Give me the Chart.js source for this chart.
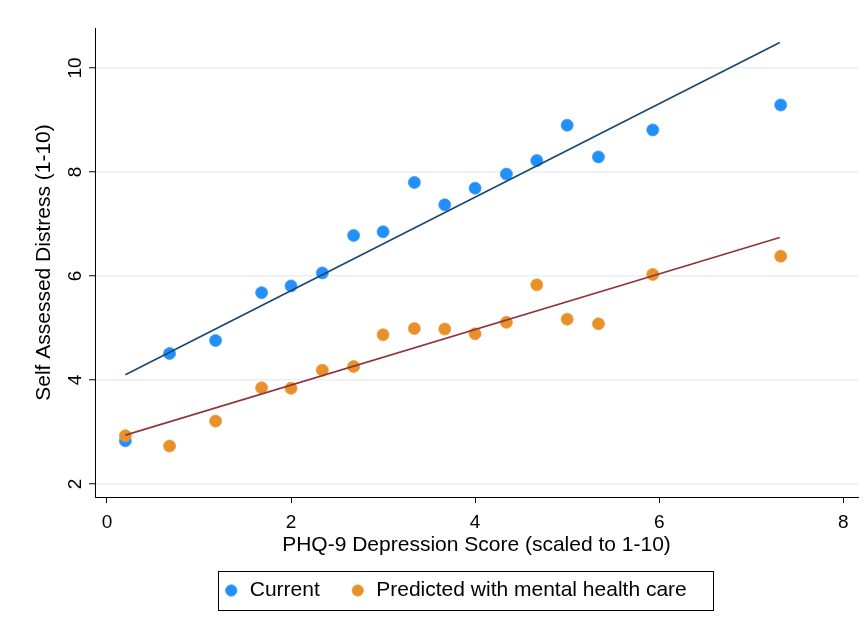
<!DOCTYPE html>
<html>
<head>
<meta charset="utf-8">
<script src="https://cdn.jsdelivr.net/npm/chart.js@4.4.1/dist/chart.umd.min.js"></script>
<style>
html, body { margin: 0; padding: 0; background: #fff; }
#wrap { width: 868px; height: 637px; }
</style>
</head>
<body>
<div id="wrap"><canvas id="myChart"></canvas></div>
<script>
const ctx = document.getElementById("myChart");

const FONT = "'Liberation Sans', Arial, Helvetica, sans-serif";

// PHQ-9 bins (x) and distress scores (y)
const scoreX = [0.2, 0.68, 1.18, 1.68, 2.0, 2.34, 2.68, 3.0, 3.34, 3.67, 4.0, 4.34, 4.67, 5.0, 5.34, 5.93, 7.32];
const currentY = [2.83, 4.51, 4.76, 5.68, 5.81, 6.06, 6.78, 6.85, 7.8, 7.37, 7.69, 7.96, 8.22, 8.9, 8.29, 8.81, 9.29];
const predictedY = [2.93, 2.73, 3.21, 3.85, 3.84, 4.19, 4.26, 4.87, 4.99, 4.98, 4.89, 5.11, 5.83, 5.17, 5.08, 6.03, 6.38];

// fitted lines, end points
const fitX = [0.2, 7.31];
const currentFitY = [4.1, 10.49];
const predictedFitY = [2.94, 6.74];

const xTicks = [0, 2, 4, 6, 8];
const yTicks = [2, 4, 6, 8, 10];

function toPoints(xs, ys) {
    return xs.map((x, i) => ({ x: x, y: ys[i] }));
}

// y tick labels are drawn turned, like the original
const yTickLabels = {
    id: "yTickLabels",
    afterDraw(chart) {
        const scale = chart.scales.y;
        const c = chart.ctx;
        c.save();
        c.fillStyle = "#000";
        c.font = "19px " + FONT;
        c.textAlign = "center";
        c.textBaseline = "middle";
        scale.ticks.forEach((t) => {
            const py = scale.getPixelForValue(t.value);
            c.save();
            c.translate(76, py);
            c.rotate(-Math.PI / 2);
            c.fillText(t.label !== undefined ? t.label : String(t.value), 0, 0);
            c.restore();
        });
        c.restore();
    },
};

// move the legend and draw a box round it
const legendBox = {
    id: "legendBox",
    afterLayout(chart) {
        const lg = chart.legend;
        lg.left += 26;
        lg.right += 26;
        lg.top = 550;
        lg.bottom = lg.top + lg.height;
    },
    afterDraw(chart) {
        const lg = chart.legend;
        const hb = lg.legendHitBoxes;
        if (!hb || !hb.length) return;
        const first = hb[0];
        const last = hb[hb.length - 1];
        const cy = lg.top + 30 + 10.5;
        const c = chart.ctx;
        c.save();
        c.strokeStyle = "#000";
        c.lineWidth = 1;
        const x1 = Math.round(first.left - 5) + 0.5;
        const x2 = Math.round(last.left + last.width + 26) + 0.5;
        c.strokeRect(x1, Math.round(cy - 20) + 0.5, x2 - x1, 39);
        c.restore();
    },
};

const chart = new Chart(ctx, {
    type: "scatter",
    data: {
        datasets: [
            {
                label: "Current",
                data: toPoints(scoreX, currentY),
                backgroundColor: "#2290fb",
                borderColor: "#3a9af5",
                borderWidth: 0.8,
                pointRadius: 6,
                pointStyle: "circle",
                order: 3,
            },
            {
                label: "Predicted with mental health care",
                data: toPoints(scoreX, predictedY),
                backgroundColor: "#e8902a",
                borderColor: "#eb9c3c",
                borderWidth: 0.8,
                pointRadius: 6,
                pointStyle: "circle",
                order: 2,
            },
            {
                type: "line",
                label: "fit current",
                data: toPoints(fitX, currentFitY),
                borderColor: "#1a476f",
                borderWidth: 1.6,
                pointRadius: 0,
                fill: false,
                order: 1,
            },
            {
                type: "line",
                label: "fit predicted",
                data: toPoints(fitX, predictedFitY),
                borderColor: "#90353b",
                borderWidth: 1.6,
                pointRadius: 0,
                fill: false,
                order: 0,
            },
        ],
    },
    options: {
        responsive: true,
        maintainAspectRatio: false,
        animation: false,
        layout: {
            padding: { top: 28, right: 10, bottom: 10, left: 0 },
        },
        scales: {
            x: {
                type: "linear",
                min: -0.13,
                max: 8.16,
                afterBuildTicks: (s) => {
                    s.ticks = xTicks.map((v) => ({ value: v }));
                },
                afterFit: (s) => {
                    s.height = 70;
                },
                grid: {
                    display: true,
                    drawOnChartArea: false,
                    drawTicks: true,
                    tickLength: 6,
                    tickColor: "#000",
                    tickWidth: 1,
                },
                border: { color: "#000", width: 1 },
                ticks: {
                    color: "#000",
                    font: { size: 19, family: FONT },
                    padding: 8,
                    maxRotation: 0,
                },
                title: {
                    display: true,
                    text: "PHQ-9 Depression Score (scaled to 1-10)",
                    color: "#000",
                    font: { size: 21, family: FONT },
                    padding: { top: 0, bottom: 9 },
                },
            },
            y: {
                type: "linear",
                min: 1.75,
                max: 10.77,
                afterBuildTicks: (s) => {
                    s.ticks = yTicks.map((v) => ({ value: v }));
                },
                afterFit: (s) => {
                    s.width = 95;
                },
                grid: {
                    color: "#e9eff4",
                    lineWidth: 1.5,
                    drawTicks: true,
                    tickLength: 6,
                    tickColor: "#000",
                    tickWidth: 1,
                },
                border: { color: "#000", width: 1 },
                ticks: {
                    display: false,
                },
                title: {
                    display: true,
                    text: "Self Assessed Distress (1-10)",
                    color: "#000",
                    font: { size: 21, family: FONT },
                    padding: { top: 32, bottom: 0 },
                },
            },
        },
        plugins: {
            tooltip: { enabled: false },
            legend: {
                display: true,
                position: "bottom",
                maxHeight: 60,
                labels: {
                    usePointStyle: true,
                    pointStyle: "circle",
                    boxWidth: 16,
                    boxHeight: 8,
                    padding: 30,
                    color: "#000",
                    font: { size: 21, family: FONT },
                    filter: (item) => item.datasetIndex < 2,
                    sort: (a, b) => a.datasetIndex - b.datasetIndex,
                },
            },
        },
    },
    plugins: [yTickLabels, legendBox],
});
</script>
</body>
</html>
